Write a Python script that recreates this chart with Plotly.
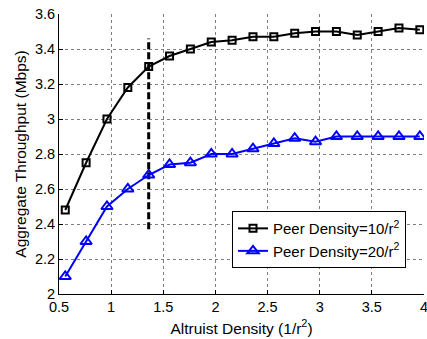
import plotly.graph_objects as go

altruist_density = [0.56, 0.76, 0.96, 1.16, 1.36, 1.56, 1.76, 1.96, 2.16, 2.36,
                    2.56, 2.76, 2.96, 3.16, 3.36, 3.56, 3.76, 3.96]
peer10 = [2.48, 2.75, 3.00, 3.18, 3.30, 3.36, 3.40, 3.44, 3.45, 3.47,
          3.47, 3.49, 3.50, 3.50, 3.48, 3.50, 3.52, 3.51]
peer20 = [2.10, 2.30, 2.50, 2.60, 2.68, 2.74, 2.75, 2.80, 2.80, 2.83,
          2.86, 2.89, 2.87, 2.90, 2.90, 2.90, 2.90, 2.90]
cut_x = [1.36, 1.36]
cut_y = [2.37, 3.46]
x_ticks = [0.5, 1, 1.5, 2, 2.5, 3, 3.5, 4]
x_tick_labels = ["0.5", "1", "1.5", "2", "2.5", "3", "3.5", "4"]
y_ticks = [2, 2.2, 2.4, 2.6, 2.8, 3, 3.2, 3.4, 3.6]
y_tick_labels = ["2", "2.2", "2.4", "2.6", "2.8", "3", "3.2", "3.4", "3.6"]

FONT = "Liberation Sans, Arial, sans-serif"

fig = go.Figure()
fig.add_trace(go.Scatter(
    x=cut_x, y=cut_y, mode="lines", showlegend=False,
    line=dict(color="black", width=3, dash="7px,3px")))
fig.add_trace(go.Scatter(
    x=altruist_density, y=peer10, mode="lines+markers",
    name="Peer Density=10/r<sup>2</sup>",
    line=dict(color="black", width=2),
    marker=dict(symbol="square-open", size=7, color="black", line=dict(width=2))))
fig.add_trace(go.Scatter(
    x=altruist_density, y=peer20, mode="lines+markers",
    name="Peer Density=20/r<sup>2</sup>",
    line=dict(color="#0000ff", width=2),
    marker=dict(symbol="triangle-up-open", size=10, color="#0000ff", line=dict(width=2))))

axis_common = dict(
    showgrid=True, gridcolor="#7f7f7f", griddash="dot", gridwidth=1,
    showline=True, linecolor="black", linewidth=1,
    ticks="inside", ticklen=4, tickcolor="black",
    zeroline=False, mirror=False,
    ticklabeloverflow="allow",
    tickfont=dict(family=FONT, size=14.5, color="black"),
)
fig.update_xaxes(
    range=[0.5, 4], tickvals=x_ticks, ticktext=x_tick_labels,
    automargin="bottom",
    title=dict(text="Altruist Density (1/r<sup>2</sup>)", standoff=8,
               font=dict(family=FONT, size=15.5, color="black")),
    **axis_common)
fig.update_yaxes(
    range=[2, 3.6], tickvals=y_ticks, ticktext=y_tick_labels,
    automargin="left",
    title=dict(text="Aggregate Throughput (Mbps)", standoff=4,
               font=dict(family=FONT, size=15.5, color="black")),
    **axis_common)

fig.update_layout(
    width=427, height=339,
    margin=dict(l=59, r=3, t=14, b=45),
    paper_bgcolor="white", plot_bgcolor="white",
    font=dict(family=FONT, color="black"),
    legend=dict(x=0.474, y=0.296, xanchor="left", yanchor="top",
                bgcolor="white", bordercolor="black", borderwidth=1,
                font=dict(family=FONT, size=15, color="black"),
                tracegroupgap=0, itemwidth=30),
)
fig.write_html("out.html",
               config={"displayModeBar": False},
               post_script="document.body.style.margin='0';document.body.style.overflow='hidden';")
